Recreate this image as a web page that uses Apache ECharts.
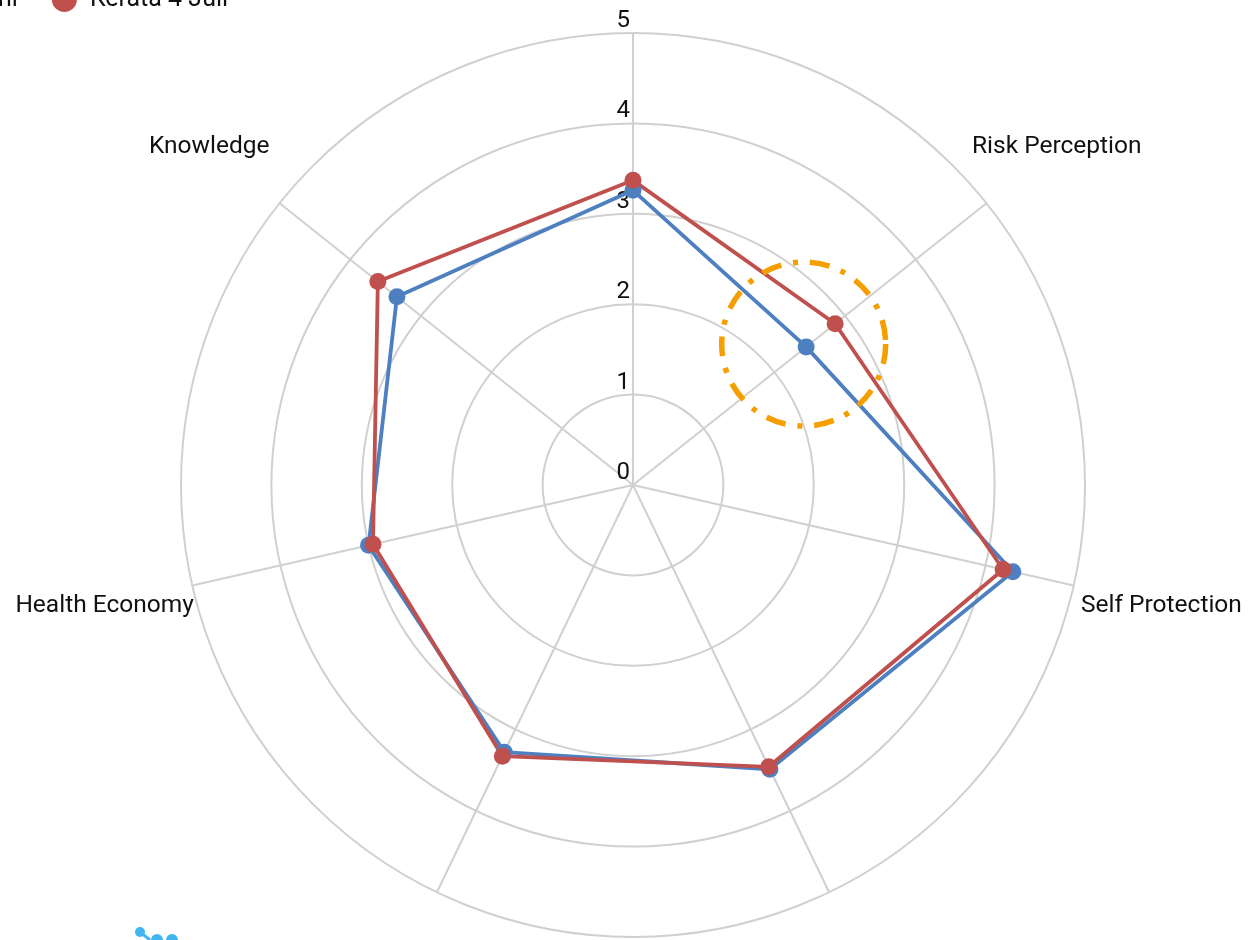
<!DOCTYPE html>
<html>
<head>
<meta charset="utf-8">
<script src="https://cdn.jsdelivr.net/npm/echarts@6/dist/echarts.min.js"></script>
<style>
html,body{margin:0;padding:0;background:#fff;}
#chart{width:1254px;height:940px;}
</style>
</head>
<body>
<div id="chart"></div>
<script>
// Indicators, in ECharts (counter-clockwise) order starting at the top
const categories = ['', 'Knowledge', 'Health Economy', ' ', '  ', 'Self Protection', 'Risk Perception'];
const seriesNames = ['Kerata 4 Juni', 'Kerata 4 Juli'];
const blueValues = [3.26, 3.34, 3.00, 3.28, 3.49, 4.31, 2.45];
const redValues  = [3.37, 3.61, 2.95, 3.33, 3.46, 4.20, 2.86];
const tickLabels = ['0', '1', '2', '3', '4', '5'];

const CX = 633, CY = 485, R = 452, MAXV = 5;
const FONT = 'Roboto, "Noto Sans", sans-serif';

const chart = echarts.init(document.getElementById('chart'), null, {renderer: 'canvas'});

// annotation circle around the Risk Perception points
const rpIdx = categories.indexOf('Risk Perception');
const rpAngle = Math.PI / 2 + rpIdx * 2 * Math.PI / categories.length;
const annV = 2.5;
const annX = CX + Math.cos(rpAngle) * annV * R / MAXV - 6;
const annY = CY - Math.sin(rpAngle) * annV * R / MAXV;

const option = {
  backgroundColor: '#fff',
  animation: false,
  color: ['#4E7FC0', '#C0504D'],
  legend: {
    data: seriesNames,
    left: -166,
    top: -13,
    padding: 0,
    itemGap: 34,
    itemWidth: 25,
    itemHeight: 25,
    icon: 'circle',
    textStyle: {fontFamily: FONT, fontSize: 25, color: '#111', padding: [0, 0, 0, 8]}
  },
  radar: {
    center: [CX, CY],
    radius: R,
    startAngle: 90,
    shape: 'circle',
    splitNumber: 5,
    nameGap: 90,
    axisName: {
      color: '#111',
      fontFamily: FONT,
      fontSize: 24.5,
      align: 'center',
      verticalAlign: 'middle',
      padding: [4, 0, 0, 0]
    },
    indicator: categories.map((c, i) => {
      const o = {name: c, min: 0, max: MAXV};
      if (i === 0) {
        o.axisLabel = {
          show: true,
          color: '#111',
          fontFamily: FONT,
          fontSize: 24,
          margin: 3,
          verticalAlign: 'bottom',
          formatter: v => tickLabels[Math.round(v)] ?? ''
        };
      }
      return o;
    }),
    axisLabel: {show: false},
    axisTick: {show: false},
    axisLine: {show: true, lineStyle: {color: '#d0d0d0', width: 2}},
    splitLine: {lineStyle: {color: '#d0d0d0', width: 2}},
    splitArea: {show: false}
  },
  graphic: [
    {
      type: 'circle',
      shape: {cx: annX, cy: annY, r: 82},
      style: {fill: 'none', stroke: '#F59E00', lineWidth: 5.5, lineDash: [20, 12, 5, 12]},
      z: 100
    },
    {type: 'circle', shape: {cx: 140, cy: 932, r: 5}, style: {fill: '#3FB6F0'}, z: 100},
    {type: 'circle', shape: {cx: 157, cy: 940, r: 6}, style: {fill: '#3FB6F0'}, z: 100},
    {type: 'circle', shape: {cx: 172, cy: 940, r: 6}, style: {fill: '#3FB6F0'}, z: 100},
    {type: 'line', shape: {x1: 140, y1: 932, x2: 150, y2: 940}, style: {stroke: '#3FB6F0', lineWidth: 3}, z: 100}
  ],
  series: [{
    type: 'radar',
    symbol: 'circle',
    symbolSize: 17,
    data: [
      {name: seriesNames[0], value: blueValues,
       lineStyle: {color: '#4E7FC0', width: 3.8}, itemStyle: {color: '#4E7FC0'}},
      {name: seriesNames[1], value: redValues,
       lineStyle: {color: '#C0504D', width: 3.8}, itemStyle: {color: '#C0504D'}}
    ]
  }]
};
chart.setOption(option);
</script>
</body>
</html>
